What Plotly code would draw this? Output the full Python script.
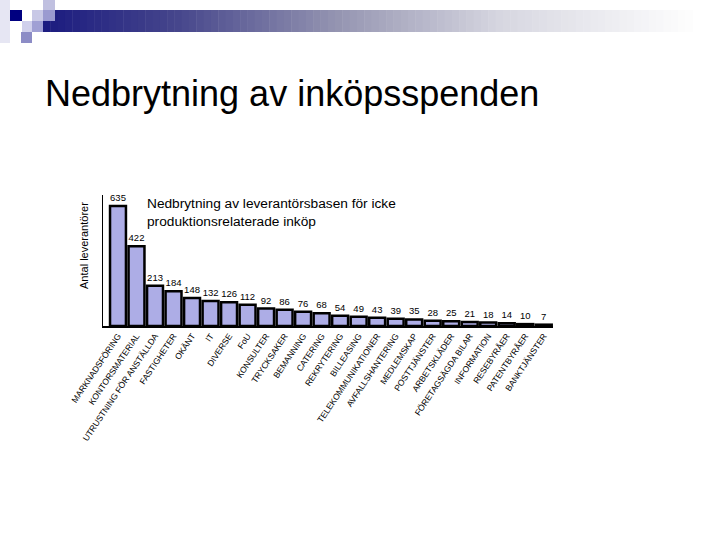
import plotly.graph_objects as go

categories = ["MARKNADSFÖRING", "KONTORSMATERIAL", "UTRUSTNING FÖR ANSTÄLLDA", "FASTIGHETER",
              "OKÄNT", "IT", "DIVERSE", "FoU", "KONSULTER", "TRYCKSAKER", "BEMANNING",
              "CATERING", "REKRYTERING", "BILLEASING", "TELEKOMMUNIKATIONER",
              "AVFALLSHANTERING", "MEDLEMSKAP", "POSTTJÄNSTER", "ARBETSKLÄDER",
              "FÖRETAGSÄGDA BILAR", "INFORMATION", "RESEBYRÅER", "PATENTBYRÅER",
              "BANKTJÄNSTER"]
values = [635, 422, 213, 184, 148, 132, 126, 112, 92, 86, 76, 68, 54, 49, 43, 39,
          35, 28, 25, 21, 18, 14, 10, 7]

W, H = 720, 540

def px(x):
    return x / W

def py(y):
    return 1 - y / H

fig = go.Figure()
fig.add_trace(go.Bar(
    x=list(range(len(categories))),
    y=values,
    text=[str(v) for v in values],
    textposition="outside",
    textfont=dict(family="Liberation Sans, Arial", size=9.5, color="black"),
    marker=dict(color="#adade6", line=dict(color="black", width=2.5)),
    width=0.86,
    cliponaxis=False,
))

shapes = []
# gradient header bar: navy -> greyish lavender -> white
stops = [(0.0, (28, 28, 128)), (0.2, (70, 70, 140)), (0.45, (150, 150, 178)),
         (0.7, (215, 215, 225)), (1.0, (255, 255, 255))]

def grad(t):
    for (ta, ca), (tb, cb) in zip(stops[:-1], stops[1:]):
        if ta <= t <= tb:
            f = (t - ta) / (tb - ta)
            return tuple(int(ca[k] + (cb[k] - ca[k]) * f) for k in range(3))
    return stops[-1][1]

x0, x1 = 43, 700
n = 90
for i in range(n):
    t = i / (n - 1)
    col = grad(t)
    xa = x0 + (x1 - x0) * i / n
    xb = x0 + (x1 - x0) * (i + 1) / n + 0.5
    shapes.append(dict(type="rect", xref="paper", yref="paper",
                       x0=px(xa), x1=px(xb), y0=py(32), y1=py(10),
                       fillcolor="rgb(%d,%d,%d)" % col, line=dict(width=0), layer="below"))

squares = [
    (0, 0, 10, 43, "#e6e6f3"),
    (10, 10, 22, 21, "#000080"),
    (32, 10, 43, 21, "#c8c8e6"),
    (43, 0, 55, 10, "#c0c0e0"),
    (43, 10, 55, 21, "#9a9ad0"),
    (22, 21, 32, 32, "#d0d0ec"),
    (32, 21, 43, 32, "#a0a0d4"),
    (21, 32, 32, 43, "#8c8cc6"),
]
for (a, b, c, d, col) in squares:
    shapes.append(dict(type="rect", xref="paper", yref="paper",
                       x0=px(a), x1=px(c), y0=py(d), y1=py(b),
                       fillcolor=col, line=dict(width=0), layer="below"))

annotations = [
    dict(text="Nedbrytning av inköpsspenden", xref="paper", yref="paper",
         x=px(43), y=py(93), xanchor="left", yanchor="middle", showarrow=False,
         font=dict(family="Liberation Sans, Arial", size=36, color="black")),
    dict(text="Nedbrytning av leverantörsbasen för icke<br>produktionsrelaterade inköp",
         xref="paper", yref="paper", x=px(145), y=py(194), xanchor="left", yanchor="top",
         align="left", showarrow=False,
         font=dict(family="Liberation Sans, Arial", size=13.7, color="black")),
    dict(text="Antal leverantörer", xref="paper", yref="paper", x=px(84), y=py(246),
         xanchor="center", yanchor="middle", textangle=-90, showarrow=False,
         font=dict(family="Liberation Sans, Arial", size=11, color="black")),
]

fig.update_layout(
    width=W, height=H, autosize=False,
    margin=dict(l=0, r=0, t=0, b=0, pad=0),
    paper_bgcolor="white", plot_bgcolor="white",
    showlegend=False,
    shapes=shapes,
    annotations=annotations,
    bargap=0.1,
    xaxis=dict(domain=[px(103), px(553)], range=[-0.81, 23.5], automargin=False,
               tickmode="array", tickvals=list(range(len(categories))), ticktext=categories,
               tickangle=-56, tickfont=dict(family="Liberation Sans, Arial", size=8.5, color="black"),
               showline=True, linecolor="black", linewidth=1.5, ticks="", showgrid=False,
               zeroline=False),
    yaxis=dict(domain=[py(326), py(195)], range=[0, 693], automargin=False,
               showline=True, linecolor="black", linewidth=1, showticklabels=False,
               ticks="", showgrid=False, zeroline=False),
)

fig.write_html("out.html", config={"responsive": False, "displayModeBar": False},
               post_script="document.body.style.margin='0px';document.body.style.overflow='hidden';")
